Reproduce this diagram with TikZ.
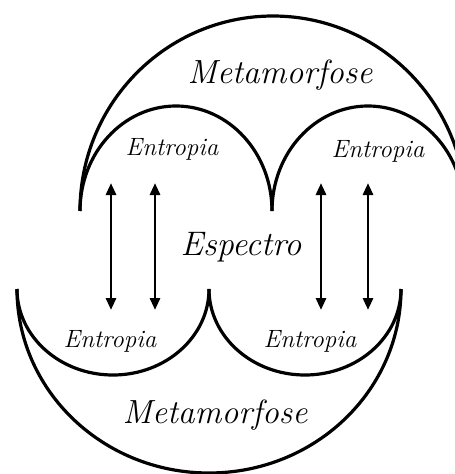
\documentclass[tikz,border=0pt]{standalone}
\usetikzlibrary{arrows.meta}
\begin{document}
\begin{tikzpicture}[x=1pt,y=1pt,
  arcline/.style={line width=3.2pt,black},
  flow/.style={line width=2.8pt,black,{Triangle[width=10pt,length=12pt]}-{Triangle[width=10pt,length=12pt]}},
  bigtxt/.style={anchor=base,inner sep=0pt,font=\fontsize{33.5}{38}\selectfont\itshape},
  midtxt/.style={anchor=base,inner sep=0pt,font=\fontsize{34}{38}\selectfont\itshape},
  smalltxt/.style={anchor=base,inner sep=0pt,font=\fontsize{25}{30}\selectfont\itshape}]
\useasboundingbox (0,0) rectangle (455,-474);
\clip (0,0) rectangle (455,-474);
\fill[white] (0,0) rectangle (455,-474);
% top arcs
\draw[arcline] (80,-211) arc[start angle=180,end angle=0,x radius=193,y radius=195];
\draw[arcline] (80,-211) arc[start angle=180,end angle=0,x radius=96,y radius=105];
\draw[arcline] (272,-211) arc[start angle=180,end angle=0,x radius=96,y radius=105];
% bottom arcs
\draw[arcline] (17,-289) arc[start angle=180,end angle=360,x radius=192,y radius=184];
\draw[arcline] (17,-289) arc[start angle=180,end angle=360,x radius=96,y radius=86];
\draw[arcline] (209,-289) arc[start angle=180,end angle=360,x radius=96,y radius=86];
% texts
\node[bigtxt] (mtop) at (280,-83) {Metamorfose};
\node[bigtxt] (mbot) at (215,-423) {Metamorfose};
\node[midtxt] (esp) at (241,-255) {Espectro};
\node[smalltxt] (e1) at (172,-155) {Entropia};
\node[smalltxt] (e2) at (378,-157) {Entropia};
\node[smalltxt] (e3) at (110,-347) {Entropia};
\node[smalltxt] (e4) at (310,-347) {Entropia};
% arrows
\coordinate (a1t) at (111,-183); \coordinate (a1b) at (111,-310);
\coordinate (a2t) at (155,-183); \coordinate (a2b) at (155,-310);
\coordinate (a3t) at (321,-183); \coordinate (a3b) at (321,-310);
\coordinate (a4t) at (368,-183); \coordinate (a4b) at (368,-310);
\draw[flow] (a1t) -- (a1b);
\draw[flow] (a2t) -- (a2b);
\draw[flow] (a3t) -- (a3b);
\draw[flow] (a4t) -- (a4b);
\end{tikzpicture}
\end{document}
